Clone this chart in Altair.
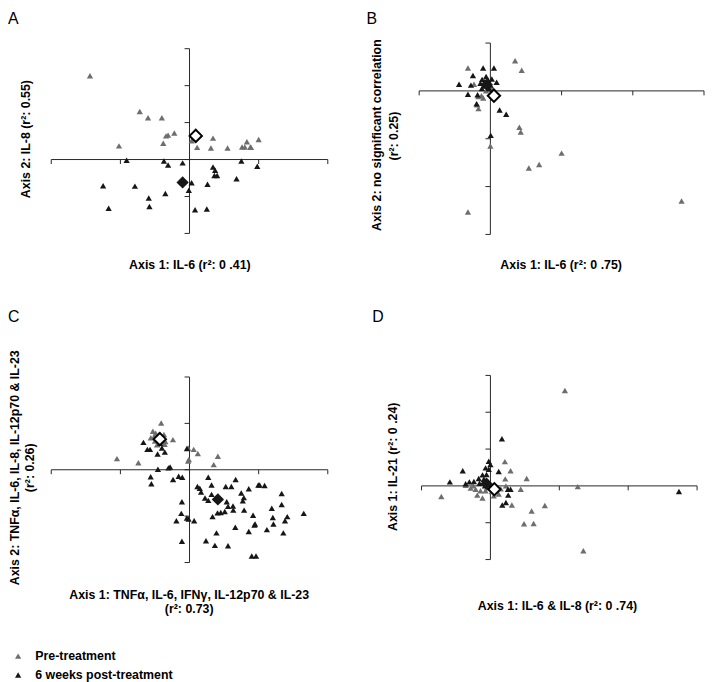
import altair as alt
import pandas as pd

FONT = "Liberation Sans"
GRAY = "#6e6e6e"
BLACK = "#161616"
AXIS = "#262626"
PRE = "Pre-treatment"
POST = "6 weeks post-treatment"
TRI = 40
DIA = 155
FS = 12.5

# ---------- Panel A ----------
a_pre_x = [-1.44, -0.72, -0.60, -0.40, -0.22, -0.34, -0.31, -0.38, -1.02, 0.03, 0.11, 0.34, 0.31, 0.55, 0.76, 0.83, 0.80, 0.88, 0.89, 1.00]
a_pre_y = [2.27, 1.30, 1.13, 1.13, 0.72, 0.64, 0.66, 0.44, 0.37, 0.51, 0.33, 0.58, 0.31, 0.31, 0.34, 0.48, 0.34, 0.34, 0.33, 0.54]
a_post_x = [-0.91, -0.37, -0.31, -0.10, 0.34, 0.37, 0.36, 0.40, 0.75, 0.98, 0.68, 0.26, 0.03, -0.01, -1.25, -0.79, -0.35, -0.59, -0.58, -1.17, 0.08, 0.25]
a_post_y = [-0.02, -0.04, -0.15, -0.09, -0.20, -0.29, -0.43, -0.43, -0.04, -0.18, -0.52, -0.67, -0.63, -0.83, -0.71, -0.72, -0.92, -1.04, -1.27, -1.32, -1.36, -1.34]
a_mean_pre = [0.09, 0.64]
a_mean_post = [-0.10, -0.62]
a_xticks = [-2, -1, 0, 1, 2]
a_yticks = [-2, -1, 0, 1, 2, 3]

# ---------- Panel B ----------
b_pre_x = [-0.315, -0.23, -0.17, -0.10, -0.167, 0.347, 0.44, 0.407, 0.426, 0.0, 1.0, 0.685, 0.54, 2.685, -0.315, -0.125, -0.185, -0.06, 0.03]
b_pre_y = [0.48, 0.14, -0.12, -0.15, -0.37, 0.63, 0.43, -0.76, -0.86, -1.15, -1.30, -1.54, -1.61, -2.30, -2.53, -0.10, -0.29, 0.0, 0.05]
b_post_x = [-0.44, -0.315, -0.273, -0.245, -0.102, 0.05, -0.116, -0.08, -0.14, 0.088, -0.18, -0.194, 0.13, 0.222, 0.005, -0.06, -0.03, 0.0, -0.09, -0.02, 0.02, -0.12]
b_post_y = [0.14, -0.07, 0.12, 0.32, 0.48, 0.48, 0.24, 0.19, 0.16, 0.18, -0.08, -0.27, -0.40, -0.49, -0.93, 0.30, 0.22, 0.12, 0.10, 0.05, 0.25, 0.05]
b_mean_pre = [0.05, -0.10]
b_mean_post = [-0.05, 0.13]
b_xticks = [-1, 0, 1, 2, 3]
b_yticks = [-3, -2, -1, 0, 1]

# ---------- Panel C ----------
c_pre_x = [-1.05, -0.74, -0.41, -0.53, -0.49, -0.56, -0.51, -0.35, -0.24, -0.37, -0.47, -0.02, 0.06, 0.12, 0.41, 0.35, -0.01, -0.02, -0.45, -0.40, -0.50, -0.36]
c_pre_y = [0.24, 0.15, 1.01, 0.83, 0.79, 0.69, 0.72, 0.61, 0.65, 0.76, 0.54, 0.47, 0.44, 0.35, 0.29, 0.11, 0.22, 0.19, 0.75, 0.70, 0.62, 0.55]
c_post_x = [-0.667, -0.61, -0.571, -0.462, -0.357, -0.4, -0.424, -0.457, -0.305, -0.281, -0.562, -0.552, -0.238, -0.157, -0.105, -0.038, -0.11, -0.119, -0.19, -0.038, -0.014, 0.067, -0.11, 0.114, 0.148, 0.167, 0.271, 0.319, 0.524, 0.605, 0.667, 0.319, 0.224, 0.271, 0.538, 0.557, 0.633, 0.405, 0.452, 0.51, 0.333, 0.662, 0.39, 0.238, 0.367, 0.557, 0.748, 0.786, 0.771, 0.857, 0.995, 1.014, 1.086, 0.79, 0.919, 0.938, 0.948, 0.857, 1.119, 1.19, 1.205, 1.214, 1.333, 1.333, 1.381, 1.414, 1.357, 1.652, 0.9, 0.962, 0.629]
c_post_y = [0.59, 0.44, 0.44, 0.34, 0.38, 0.47, 0.57, 0.01, 0.04, 0.06, -0.15, -0.30, -0.21, -0.14, -0.16, 0.46, -0.69, -0.94, -1.1, -1.04, -1.06, -1.1, -1.54, -0.36, -0.4, -0.48, -0.16, -0.33, -0.36, -0.36, -0.21, -0.53, -0.61, -0.66, -0.69, -0.79, -0.87, -0.93, -0.92, -0.9, -1.01, -1.24, -1.36, -1.53, -1.63, -1.64, -0.5, -0.6, -0.67, -0.41, -0.33, -0.33, -0.34, -0.87, -0.98, -1.19, -1.17, -1.33, -1.29, -0.83, -1.03, -1.17, -0.51, -0.75, -1.1, -1.01, -1.36, -0.94, -1.86, -1.86, -0.78]
c_mean_pre = [-0.43, 0.66]
c_mean_post = [0.41, -0.64]
c_xticks = [-2, -1, 0, 1, 2]
c_yticks = [-2, -1, 0, 1, 2]

# ---------- Panel D ----------
d_pre_x = [1.081, -0.713, 0.21, 0.292, 0.215, 0.526, 0.225, 0.44, 1.268, 0.79, 0.598, 0.488, 0.627, 1.349, 0.311, -0.359, -0.287, -0.191, -0.115, -0.215, -0.144, -0.072, 0.048, 0.12, -0.05, 0.02, -0.25, 0.15]
d_pre_y = [2.59, -0.29, 0.66, 0.41, 0.19, 0.2, 0.0, -0.09, -0.02, -0.53, -0.68, -1.03, -1.02, -1.76, -0.52, 0.02, -0.06, -0.25, -0.33, -0.09, -0.13, -0.13, -0.27, -0.22, -0.05, -0.15, 0.0, -0.08]
d_post_x = [-0.589, -0.402, -0.306, 0.167, 0.0, -0.024, -0.057, 0.12, -0.096, -0.158, 0.254, 0.292, 0.258, 0.225, 0.172, 2.737, -0.024, -0.07, -0.115, -0.17, -0.24, -0.36, -0.03, -0.08]
d_post_y = [0.11, 0.41, 0.11, 1.28, 0.58, 0.45, 0.31, 0.39, 0.18, 0.07, -0.09, -0.09, -0.25, -0.45, -0.52, -0.15, 0.67, 0.49, 0.30, 0.2, 0.12, 0.06, 0.1, 0.0]
d_mean_pre = [0.057, -0.09]
d_mean_post = [-0.057, 0.06]
d_xticks = [-1, 0, 1, 2, 3]
d_yticks = [-2, -1, 0, 1, 2, 3]

LEG = alt.Legend(title=None, orient="none", legendX=4, legendY=641,
                 symbolType="triangle-up", symbolSize=TRI, symbolStrokeWidth=0,
                 labelFont=FONT, labelFontSize=FS, labelFontWeight="bold",
                 labelColor="#000", rowPadding=6, labelOffset=11)


def txt(s, x, y, size=FS, weight="bold", angle=0, align="center", baseline="middle"):
    return alt.Chart(pd.DataFrame({"t": [s]})).mark_text(
        font=FONT, fontSize=size, fontWeight=weight, angle=angle,
        align=align, baseline=baseline, color="#000"
    ).encode(x=alt.value(x), y=alt.value(y), text="t:N")


def panel(pre_x, pre_y, post_x, post_y, m_pre, m_post, xt, yt, xr, yr, texts):
    xs = alt.Scale(domain=[xt[0], xt[-1]], range=xr, nice=False, zero=False)
    ys = alt.Scale(domain=[yt[0], yt[-1]], range=yr, nice=False, zero=False)
    X = lambda f: alt.X(f, scale=xs, axis=None)
    Y = lambda f: alt.Y(f, scale=ys, axis=None)

    hl = alt.Chart(pd.DataFrame({"a": [xt[0]], "b": [xt[-1]], "z": [0]})).mark_rule(
        color=AXIS, strokeWidth=1).encode(x=X("a:Q"), x2="b:Q", y=Y("z:Q"))
    vl = alt.Chart(pd.DataFrame({"a": [yt[0]], "b": [yt[-1]], "z": [0]})).mark_rule(
        color=AXIS, strokeWidth=1).encode(y=Y("a:Q"), y2="b:Q", x=X("z:Q"))
    xtk = alt.Chart(pd.DataFrame({"v": xt, "z": [0] * len(xt)})).mark_rule(
        color=AXIS, strokeWidth=1, y2Offset=4.5).encode(x=X("v:Q"), y=Y("z:Q"), y2="z:Q")
    ytk = alt.Chart(pd.DataFrame({"v": yt, "z": [0] * len(yt)})).mark_rule(
        color=AXIS, strokeWidth=1, x2Offset=-5).encode(y=Y("v:Q"), x=X("z:Q"), x2="z:Q")

    pts = pd.DataFrame({
        "x": pre_x + post_x,
        "y": pre_y + post_y,
        "group": [PRE] * len(pre_x) + [POST] * len(post_x),
    })
    tri = alt.Chart(pts).mark_point(shape="triangle-up", filled=True, size=TRI, opacity=1).encode(
        x=X("x:Q"), y=Y("y:Q"),
        color=alt.Color("group:N", scale=alt.Scale(domain=[PRE, POST], range=[GRAY, BLACK]), legend=LEG),
    )
    mpost = alt.Chart(pd.DataFrame({"x": [m_post[0]], "y": [m_post[1]]})).mark_point(
        shape="diamond", filled=True, size=DIA, color=BLACK, opacity=1).encode(x=X("x:Q"), y=Y("y:Q"))
    mpre = alt.Chart(pd.DataFrame({"x": [m_pre[0]], "y": [m_pre[1]]})).mark_point(
        shape="diamond", filled=False, size=DIA, fill="white", fillOpacity=1, stroke="#000",
        strokeWidth=2, opacity=1).encode(x=X("x:Q"), y=Y("y:Q"))

    layers = [hl, vl, xtk, ytk, tri, mpost, mpre] + texts
    return alt.layer(*layers).properties(width=352, height=310)


A = panel(a_pre_x, a_pre_y, a_post_x, a_post_y, a_mean_pre, a_mean_post, a_xticks, a_yticks,
          [43.7, 323], [220.3, 33.7],
          [txt("A", 0, 9, size=16, weight="normal", align="left", baseline="alphabetic"),
           txt("Axis 1: IL-6 (r²: 0 .41)", 183.7, 252),
           txt("Axis 2: IL-8 (r²: 0.55)", 18, 125, angle=270)])

B = panel(b_pre_x, b_pre_y, b_post_x, b_post_y, b_mean_pre, b_mean_post, b_xticks, b_yticks,
          [63.3, 351], [221.3, 28],
          [txt("B", 10, 9, size=16, weight="normal", align="left", baseline="alphabetic"),
           txt("Axis 1: IL-6 (r²: 0 .75)", 206.7, 252),
           txt("Axis 2: no significant correlation", 20.7, 121, angle=270),
           txt("(r²: 0.25)", 38, 122, angle=270)])

C = panel(c_pre_x, c_pre_y, c_post_x, c_post_y, c_mean_pre, c_mean_post, c_xticks, c_yticks,
          [43.7, 323], [242.7, 55.3],
          [txt("C", 0, 0, size=16, weight="normal", align="left", baseline="alphabetic"),
           txt("Axis 1: TNFα, IL-6, IFNγ, IL-12p70 & IL-23", 183, 276),
           txt("(r²: 0.73)", 183, 289.5),
           txt("Axis 2: TNFα, IL-6, IL-8, IL-12p70 & IL-23", 7, 147, angle=270),
           txt("(r²: 0.26)", 22, 147, angle=270)])

D = panel(d_pre_x, d_pre_y, d_post_x, d_post_y, d_mean_pre, d_mean_post, d_xticks, d_yticks,
          [65.7, 344], [239.7, 53.7],
          [txt("D", 16, 0, size=16, weight="normal", align="left", baseline="alphabetic"),
           txt("Axis 1: IL-6 & IL-8 (r²: 0 .74)", 203, 287),
           txt("Axis 1: IL-21 (r²: 0 .24)", 36.7, 146, angle=270)])

chart = alt.concat(A, B, C, D, columns=2, spacing=0, bounds="flush").properties(
    padding=0, background="white"
).configure_view(stroke=None)

chart.save("out.html", embed_options={"renderer": "svg", "actions": False})
